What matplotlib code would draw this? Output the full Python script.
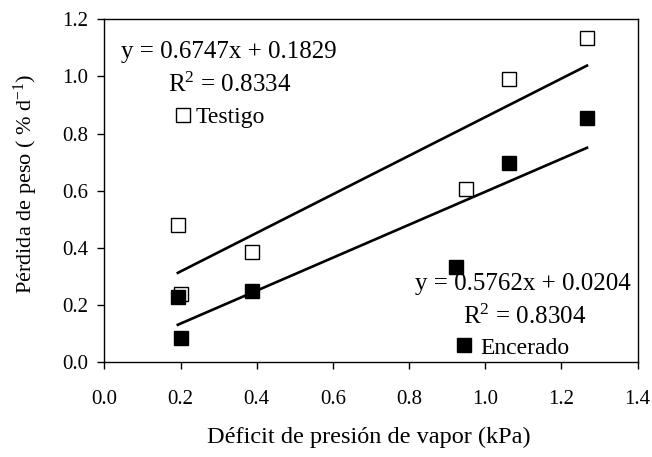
import numpy as np
import matplotlib
matplotlib.use("Agg")
import matplotlib.pyplot as plt
from matplotlib.ticker import FormatStrFormatter

plt.rcParams['font.family'] = ['Liberation Serif', 'DejaVu Serif']
plt.rcParams['mathtext.fontset'] = 'custom'
plt.rcParams['mathtext.rm'] = 'Liberation Serif'

# Data
testigo_x = [0.193, 0.201, 0.388, 0.950, 1.062, 1.267]
testigo_y = [0.479, 0.239, 0.387, 0.605, 0.991, 1.133]
encerado_x = [0.193, 0.200, 0.388, 0.922, 1.062, 1.267]
encerado_y = [0.228, 0.087, 0.250, 0.332, 0.698, 0.855]

# Linear fits as printed on the chart
testigo_fit = (0.6747, 0.1829, 0.8334)
encerado_fit = (0.5762, 0.0204, 0.8304)

x_ticks = [0.0, 0.2, 0.4, 0.6, 0.8, 1.0, 1.2, 1.4]
y_ticks = [0.0, 0.2, 0.4, 0.6, 0.8, 1.0, 1.2]

fig = plt.figure(figsize=(6.52, 4.57), dpi=100)
ax = fig.add_axes([0.160, 0.207, 0.818, 0.751])

# Trend lines
for xs, (m, b, r2) in [(testigo_x, testigo_fit), (encerado_x, encerado_fit)]:
    xl = np.array([min(xs), max(xs)])
    ax.plot(xl, m * xl + b, color='black', lw=1.9, zorder=2)

h_t, = ax.plot(testigo_x, testigo_y, ls='none', marker='s', ms=9.5, mfc='white',
               mec='black', mew=1.0, zorder=3)
h_e, = ax.plot(encerado_x, encerado_y, ls='none', marker='s', ms=9.5, mfc='black',
               mec='black', mew=1.0, zorder=4)

ax.set_xlim(0, 1.4)
ax.set_ylim(0, 1.2)
ax.set_xticks(x_ticks)
ax.set_yticks(y_ticks)
ax.xaxis.set_major_formatter(FormatStrFormatter('%.1f'))
ax.yaxis.set_major_formatter(FormatStrFormatter('%.1f'))
ax.tick_params(axis='both', direction='out', length=4.8, width=1, labelsize=15)
ax.tick_params(axis='x', pad=15)
ax.tick_params(axis='y', pad=6.5)
for s in ax.spines.values():
    s.set_linewidth(1.0)

# Equations
eq1 = 'y = %.4fx + %.4f' % testigo_fit[:2]
eq2 = 'y = %.4fx + %.4f' % encerado_fit[:2]
ax.text(0.043, 1.064, eq1, fontsize=18, va='baseline')
ax.text(0.166, 0.947, 'R$\\mathregular{^2}$ = %.4f' % testigo_fit[2], fontsize=18, va='baseline')
ax.text(0.816, 0.253, eq2, fontsize=18, va='baseline')
ax.text(0.942, 0.136, 'R$\\mathregular{^2}$ = %.4f' % encerado_fit[2], fontsize=18, va='baseline')

# Legend entries, placed separately like the original
leg1 = ax.legend([h_t], ['Testigo'], loc='center left', bbox_to_anchor=(0.129, 0.713),
                 frameon=False, fontsize=17, handlelength=0.8, handletextpad=0.16,
                 borderpad=0, borderaxespad=0)
ax.add_artist(leg1)
ax.legend([h_e], ['Encerado'], loc='center left', bbox_to_anchor=(0.656, 0.042),
          frameon=False, fontsize=17, handlelength=0.8, handletextpad=0.32,
          borderpad=0, borderaxespad=0)

fig.text(25.5 / 652, 1 - 184 / 457, 'Pérdida de peso ( % d$\\mathregular{^{-1}}$)',
         rotation=90, ha='center', va='center', fontsize=16)
fig.text(369 / 652, 1 - 437 / 457, 'Déficit de presión de vapor (kPa)',
         ha='center', va='center', fontsize=17.5)

fig.savefig('out.png', dpi=100)
